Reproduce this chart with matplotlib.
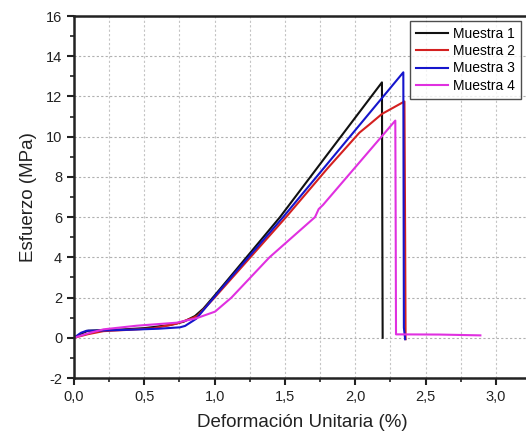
import matplotlib
matplotlib.use('Agg')
import matplotlib.pyplot as plt
from matplotlib.ticker import MultipleLocator, FuncFormatter

plt.rcParams['font.family'] = ['Liberation Sans', 'DejaVu Sans']

x1 = [0, 0.05, 0.1, 0.2, 0.36, 0.5, 0.68, 0.78, 0.86, 0.92, 1.0, 1.465, 1.8, 2.19, 2.192, 2.195]
y1 = [0, 0.2, 0.35, 0.38, 0.42, 0.48, 0.63, 0.8, 1.08, 1.45, 2.1, 6.0, 9.1, 12.7, 7.0, 0.0]

x2 = [0, 0.1, 0.21, 0.4, 0.564, 0.73, 0.85, 0.88, 1.0, 1.508, 1.8, 2.03, 2.1, 2.19, 2.35, 2.355, 2.358]
y2 = [0, 0.18, 0.33, 0.4, 0.47, 0.7, 1.0, 1.1, 2.0, 6.0, 8.4, 10.2, 10.6, 11.13, 11.75, 5.0, -0.07]

x3 = [0, 0.05, 0.09, 0.2, 0.4, 0.6, 0.754, 0.79, 0.87, 1.04, 1.487, 2.342, 2.346, 2.355]
y3 = [0, 0.25, 0.35, 0.36, 0.4, 0.45, 0.52, 0.59, 0.95, 2.38, 6.0, 13.2, 0.5, -0.07]

x4 = [0, 0.1, 0.21, 0.446, 0.73, 0.87, 1.003, 1.12, 1.39, 1.714, 1.74, 1.77, 2.285, 2.288, 2.29, 2.6, 2.89]
y4 = [0, 0.22, 0.42, 0.6, 0.75, 0.97, 1.3, 2.0, 4.0, 6.0, 6.4, 6.6, 10.8, 5.0, 0.17, 0.16, 0.12]

labels = ['Muestra 1', 'Muestra 2', 'Muestra 3', 'Muestra 4']
colors = ['#111111', '#d42020', '#1515cc', '#e030e0']

W, H = 526, 437
fig = plt.figure(figsize=(W / 100, H / 100), dpi=100)
ax = fig.add_axes([74 / W, (H - 378) / H, (531 - 74) / W, (378 - 16) / H])

for xs, ys, lab, c in zip([x1, x2, x3, x4], [y1, y2, y3, y4], labels, colors):
    ax.plot(xs, ys, color=c, lw=1.5, label=lab)

ax.set_xlim(0, 3.25)
ax.set_ylim(-2, 16)
ax.xaxis.set_major_locator(MultipleLocator(0.5))
ax.xaxis.set_minor_locator(MultipleLocator(0.25))
ax.yaxis.set_major_locator(MultipleLocator(2))
ax.yaxis.set_minor_locator(MultipleLocator(1))
ax.xaxis.set_major_formatter(FuncFormatter(lambda v, p: f'{v:.1f}'.replace('.', ',')))
ax.yaxis.set_major_formatter(FuncFormatter(lambda v, p: f'{v:.0f}'))

ax.grid(True, which='both', axis='x', color='#c4c4c4', ls=(0, (2, 2)), lw=0.8)
ax.grid(True, which='major', axis='y', color='#b0b0b0', ls=(0, (2, 2)), lw=0.8)
ax.set_axisbelow(True)

for s in ['left', 'bottom', 'top', 'right']:
    ax.spines[s].set_linewidth(1.8)
    ax.spines[s].set_color('#222222')
ax.tick_params(which='major', direction='out', length=5, width=1.5, labelsize=10.5,
               color='#222222', labelcolor='#222222')
ax.tick_params(which='minor', direction='out', length=3, width=1.2, color='#222222')
ax.tick_params(top=False, right=False, which='both')

ax.set_xlabel('Deformación Unitaria (%)', fontsize=13.5, labelpad=7, color='#222222')
ax.set_ylabel('Esfuerzo (MPa)', fontsize=13.5, labelpad=6, color='#222222')

leg = ax.legend(loc='upper left', bbox_to_anchor=(410 / W, 1 - 21 / H), bbox_transform=fig.transFigure,
                fontsize=10, frameon=True, fancybox=False, handlelength=2.3, handletextpad=0.4,
                labelspacing=0.25, borderpad=0.4, borderaxespad=0)
leg.get_frame().set_edgecolor('#222222')
leg.get_frame().set_linewidth(1.0)

fig.savefig('out.png', dpi=100)
